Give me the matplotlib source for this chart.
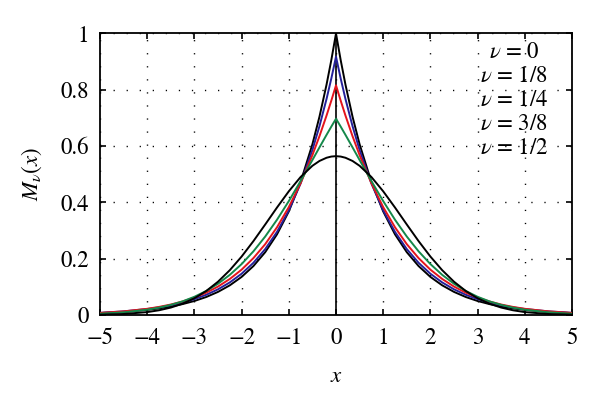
import matplotlib
matplotlib.use("Agg")
import matplotlib.pyplot as plt

plt.rcParams['font.family'] = ['STIXGeneral', 'Liberation Serif', 'DejaVu Serif']
plt.rcParams['mathtext.fontset'] = 'stix'

# sample positions (symmetric curves)
x = [-5, -4.5, -4, -3.75, -3.5, -3.25, -3, -2.75, -2.5, -2.25, -2, -1.75, -1.5, -1.25, -1, -0.75, -0.5, -0.35, -0.2, -0.1,
     0, 0.1, 0.2, 0.35, 0.5, 0.75, 1, 1.25, 1.5, 1.75, 2, 2.25, 2.5, 2.75, 3, 3.25, 3.5, 3.75, 4, 4.5, 5]

m_0 = [0.0067, 0.0111, 0.0183, 0.0235, 0.0302, 0.0388, 0.0498, 0.0639, 0.0821, 0.1054, 0.1353, 0.1738, 0.2231, 0.2865, 0.3679, 0.4724, 0.6065, 0.7047, 0.8187, 0.9048,
       1.0000, 0.9048, 0.8187, 0.7047, 0.6065, 0.4724, 0.3679, 0.2865, 0.2231, 0.1738, 0.1353, 0.1054, 0.0821, 0.0639, 0.0498, 0.0388, 0.0302, 0.0235, 0.0183, 0.0111, 0.0067]
m_1_8 = [0.0078, 0.0130, 0.0213, 0.0272, 0.0348, 0.0443, 0.0565, 0.0718, 0.0912, 0.1157, 0.1466, 0.1854, 0.2341, 0.2952, 0.3717, 0.4671, 0.5861, 0.6710, 0.7677, 0.8395,
         0.9177, 0.8395, 0.7677, 0.6710, 0.5861, 0.4671, 0.3717, 0.2952, 0.2341, 0.1854, 0.1466, 0.1157, 0.0912, 0.0718, 0.0565, 0.0443, 0.0348, 0.0272, 0.0213, 0.0130, 0.0078]
m_1_4 = [0.0073, 0.0128, 0.0220, 0.0287, 0.0372, 0.0481, 0.0619, 0.0793, 0.1010, 0.1280, 0.1611, 0.2021, 0.2516, 0.3116, 0.3833, 0.4682, 0.5679, 0.6353, 0.7087, 0.7610,
         0.8160, 0.7610, 0.7087, 0.6353, 0.5679, 0.4682, 0.3833, 0.3116, 0.2516, 0.2021, 0.1611, 0.1280, 0.1010, 0.0793, 0.0619, 0.0481, 0.0372, 0.0287, 0.0220, 0.0128, 0.0073]
m_3_8 = [0.0046, 0.0096, 0.0190, 0.0262, 0.0359, 0.0484, 0.0647, 0.0853, 0.1110, 0.1426, 0.1809, 0.2261, 0.2787, 0.3384, 0.4046, 0.4759, 0.5504, 0.5955, 0.6400, 0.6690,
         0.6971, 0.6690, 0.6400, 0.5955, 0.5504, 0.4759, 0.4046, 0.3384, 0.2787, 0.2261, 0.1809, 0.1426, 0.1110, 0.0853, 0.0647, 0.0484, 0.0359, 0.0262, 0.0190, 0.0096, 0.0046]
m_1_2 = [0.0011, 0.0036, 0.0103, 0.0168, 0.0264, 0.0402, 0.0595, 0.0852, 0.1183, 0.1592, 0.2076, 0.2624, 0.3215, 0.3818, 0.4394, 0.4902, 0.5300, 0.5472, 0.5586, 0.5628,
         0.5642, 0.5628, 0.5586, 0.5472, 0.5300, 0.4902, 0.4394, 0.3818, 0.3215, 0.2624, 0.2076, 0.1592, 0.1183, 0.0852, 0.0595, 0.0402, 0.0264, 0.0168, 0.0103, 0.0036, 0.0011]

labels = [r'$\nu$ = 0', r'$\nu$ = 1/8', r'$\nu$ = 1/4', r'$\nu$ = 3/8', r'$\nu$ = 1/2']
series = [m_0, m_1_8, m_1_4, m_3_8, m_1_2]
colors = ['#000000', '#24209a', '#e4141c', '#14884a', '#000000']

x_ticks = [-5, -4, -3, -2, -1, 0, 1, 2, 3, 4, 5]
y_ticks = [0, 0.2, 0.4, 0.6, 0.8, 1]
y_ticklabels = ['0', '0.2', '0.4', '0.6', '0.8', '1']

fig = plt.figure(figsize=(6, 4), dpi=100)
ax = fig.add_axes([0.1667, 0.2125, 0.7866, 0.7038])

ax.grid(True, color='black', linestyle=(0, (0.9, 8.5)), linewidth=1.0)
ax.axvline(0, color='black', linewidth=1.2, zorder=2)
for ys, c, lab in zip(series, colors, labels):
    ax.plot(x, ys, color=c, linewidth=1.4, label=lab, zorder=3)

ax.set_xlim(-5, 5)
ax.set_ylim(0, 1)
ax.set_xticks(x_ticks)
ax.set_xticklabels([str(t).replace('-', '\u2212') for t in x_ticks])
ax.set_yticks(y_ticks)
ax.set_yticklabels(y_ticklabels)
ax.tick_params(direction='in', length=4, width=1.2, top=True, right=True,
               labelsize=16.5)
ax.tick_params(axis='x', pad=9)
ax.tick_params(axis='y', pad=8)
for s in ax.spines.values():
    s.set_linewidth(1.3)

ax.set_xlabel(r'$x$', fontsize=16.5, labelpad=12)
ax.set_ylabel(r'$M_\nu(x)$', fontsize=16.5, labelpad=12)

for i, lab in enumerate(labels):
    ax.text(0.877, 0.913 - i * 0.0853, lab, transform=ax.transAxes,
            ha='center', va='baseline', fontsize=16.5, zorder=5)

fig.savefig('out.png', dpi=100)
